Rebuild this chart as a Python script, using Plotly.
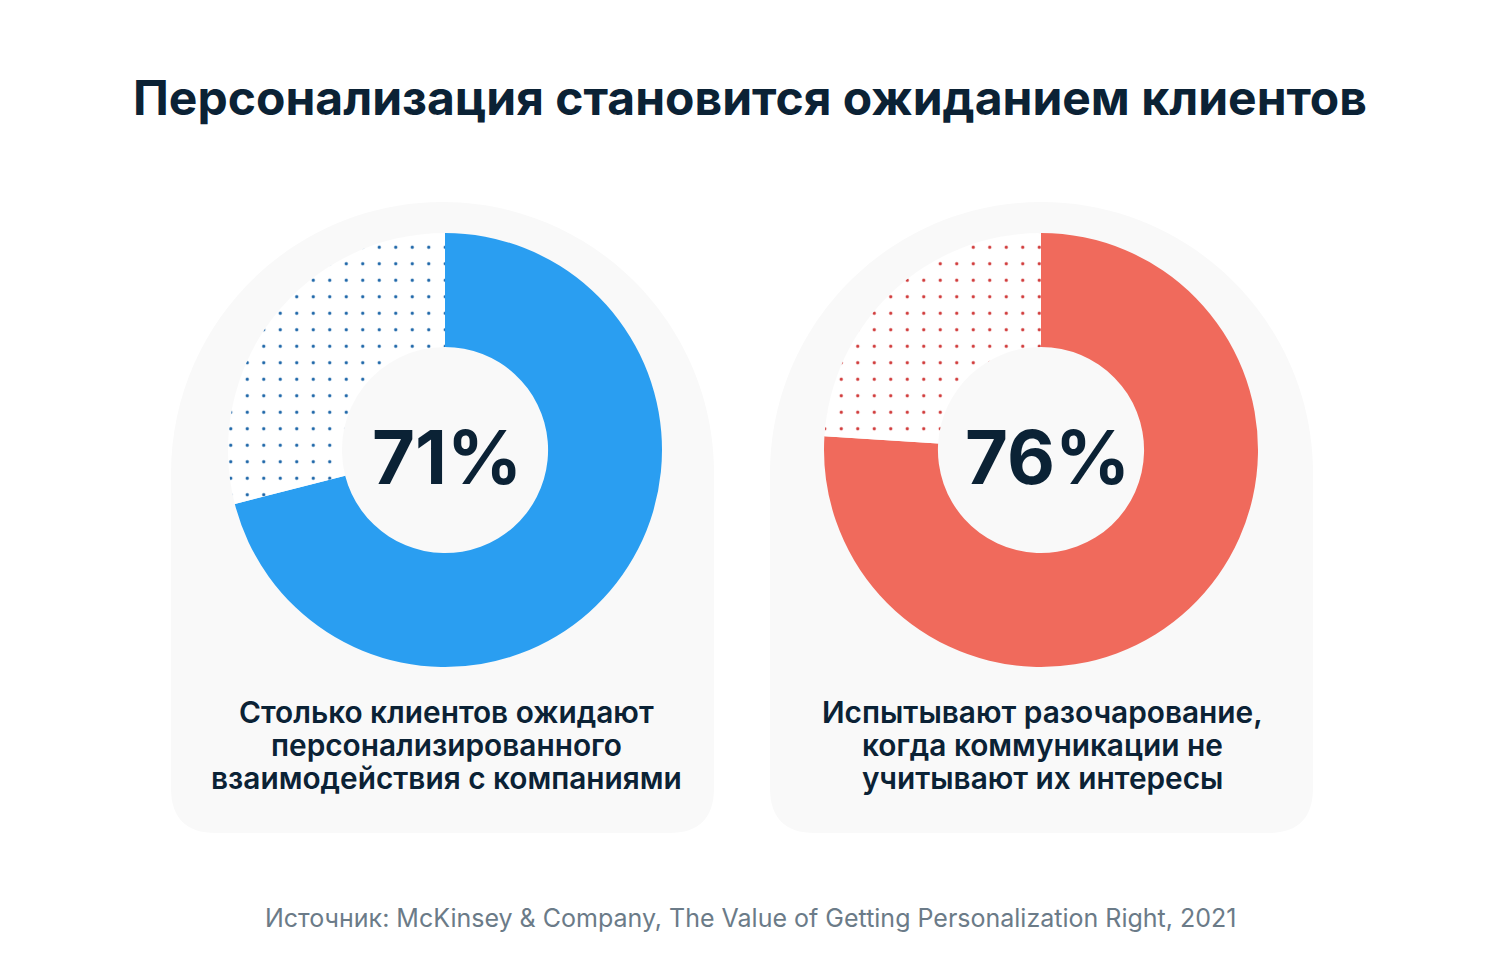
import plotly.graph_objects as go

W, H = 1500, 980
OFF = 8  # the page body has an 8px margin; shift everything back by it

# data
shares = [71, 76]
center_labels = ["71%", "76%"]
captions = [
    ["Столько клиентов ожидают", "персонализированного", "взаимодействия с компаниями"],
    ["Испытывают разочарование,", "когда коммуникации не", "учитывают их интересы"],
]
title_text = "Персонализация становится ожиданием клиентов"
source_text = "Источник: McKinsey & Company, The Value of Getting Personalization Right, 2021"

# styles
main_colors = ["#2a9ef1", "#f06a5c"]
dot_colors = ["#1d66a8", "#d03a3a"]
dark = "#0b2235"
panel_color = "#f9f9f9"
font_family = "Inter, Roboto, sans-serif"

# layout in pixels of the screenshot
donut_cx = [445, 1041]
donut_cy = 450
donut_r = 217
label_dx = [2, 6]
panel_x = [(171, 714), (770, 1313)]
panel_top, panel_bottom, corner = 202, 833, 45


def px(x):
    return (x - OFF) / W


def py(y):
    return 1 - (y - OFF) / H


def arch_path(x0, x1):
    # arch top (two cubic quarter circles) + rounded bottom corners
    R = (x1 - x0) / 2
    cx = x0 + R
    cy = panel_top + R
    k = 0.5523 * R
    pts = [
        f"M {px(x0)},{py(cy)}",
        f"C {px(x0)},{py(cy - k)} {px(cx - k)},{py(panel_top)} {px(cx)},{py(panel_top)}",
        f"C {px(cx + k)},{py(panel_top)} {px(x1)},{py(cy - k)} {px(x1)},{py(cy)}",
        f"L {px(x1)},{py(panel_bottom - corner)}",
        f"Q {px(x1)},{py(panel_bottom)} {px(x1 - corner)},{py(panel_bottom)}",
        f"L {px(x0 + corner)},{py(panel_bottom)}",
        f"Q {px(x0)},{py(panel_bottom)} {px(x0)},{py(panel_bottom - corner)}",
        "Z",
    ]
    return " ".join(pts)


fig = go.Figure()

for i, share in enumerate(shares):
    cx = donut_cx[i]
    fig.add_trace(go.Pie(
        values=[share, 100 - share],
        labels=["да", "нет"],
        sort=False,
        direction="clockwise",
        rotation=0,
        hole=0.475,
        textinfo="none",
        hoverinfo="skip",
        showlegend=False,
        marker=dict(
            colors=[main_colors[i], "white"],
            line=dict(width=0),
            pattern=dict(
                shape=["", "."],
                fgcolor=dot_colors[i],
                bgcolor="white",
                size=16.5,
                solidity=0.03,
                fillmode="replace",
            ),
        ),
        domain=dict(
            x=[px(cx - donut_r), px(cx + donut_r)],
            y=[py(donut_cy + donut_r), py(donut_cy - donut_r)],
        ),
    ))

shapes = []
for x0, x1 in panel_x:
    shapes.append(dict(
        type="path", path=arch_path(x0, x1), xref="paper", yref="paper",
        fillcolor=panel_color, line=dict(width=0), layer="below",
    ))


def label(text, x, y, size, color=dark, weight=400):
    return dict(text=text, x=px(x), y=py(y), xref="paper", yref="paper",
                xanchor="center", yanchor="middle", showarrow=False,
                font=dict(family=font_family, size=size, color=color, weight=weight))


annotations = [
    label(title_text, 750, 98, 48, weight=700),
    label(source_text, 750, 918, 25, color="#6b7b88"),
]
for i in range(len(shares)):
    annotations.append(label(center_labels[i], donut_cx[i] + label_dx[i], 457, 74, weight=700))
    for j, line in enumerate(captions[i]):
        annotations.append(label(line, donut_cx[i] + 1, 712 + 33 * j, 29.8, weight=600))

fig.update_layout(
    width=W, height=H,
    margin=dict(l=0, r=0, t=0, b=0),
    paper_bgcolor="white",
    plot_bgcolor="white",
    shapes=shapes,
    annotations=annotations,
)

fig.write_html("out.html")
